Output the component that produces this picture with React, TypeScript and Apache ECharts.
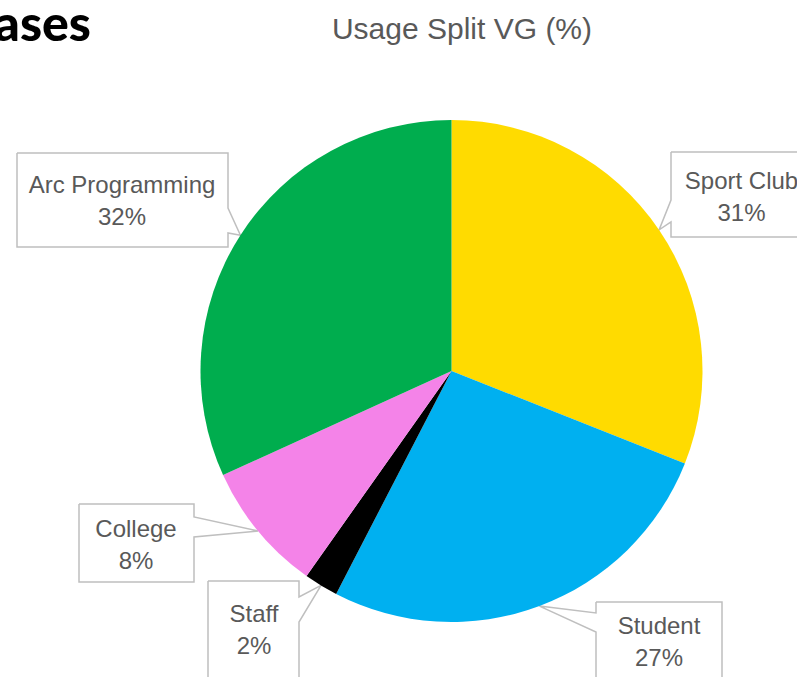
import React, { useEffect, useRef } from "react";
import * as echarts from "echarts";

const categories = ["Sport Club", "Student", "Staff", "College", "Arc Programming"];
const values = [31.0, 26.6, 2.2, 8.4, 31.8];
const colors = ["#FFDB00", "#00B0F0", "#000000", "#F483E8", "#00AD4E"];
const chartTitle = "Usage Split VG (%)";
const headingFragment = "ases";

// callout box layout (pixels), one per category
const calloutBoxes = [
  { x0: 671, y0: 152, x1: 840, y1: 237, side: "left", a: 200, b: 222, cx: 741.5, cy: 196 },
  { x0: 596, y0: 602, x1: 722, y1: 720, side: "left", a: 613, b: 632, cx: 659, cy: 641 },
  { x0: 208, y0: 581, x1: 299, y1: 720, side: "right", a: 597, b: 622, cx: 254, cy: 629 },
  { x0: 79, y0: 504, x1: 194, y1: 582, side: "right", a: 517, b: 537, cx: 136, cy: 544 },
  { x0: 17, y0: 153, x1: 228, y1: 247, side: "right", a: 208, b: 233, cx: 122, cy: 200.5 },
];

function calloutOutline(box: any, tip: number[]) {
  const { x0, y0, x1, y1, side, a, b } = box;
  if (side === "right") {
    return [[x0, y0], [x1, y0], [x1, a], tip, [x1, b], [x1, y1], [x0, y1], [x0, y0]];
  }
  return [[x0, y0], [x1, y0], [x1, y1], [x0, y1], [x0, b], tip, [x0, a], [x0, y0]];
}

export default function App() {
  const ref = useRef<HTMLDivElement>(null);
  useEffect(() => {
    if (!ref.current) return;
    const chart = echarts.init(ref.current, null, { renderer: "svg" });
    chart.setOption({
      animation: false,
      backgroundColor: "#ffffff",
      title: {
        text: chartTitle,
        left: 457,
        top: 8,
        textAlign: "center",
        textStyle: {
          fontFamily: "Liberation Sans",
          fontSize: 30,
          fontWeight: "normal",
          color: "#595959",
        },
      },
      graphic: [
        {
          type: "text",
          x: 91,
          y: 22,
          style: {
            text: headingFragment,
            fontFamily: "Lato",
            fontWeight: 900,
            fontSize: 50,
            fill: "#000000",
            textAlign: "right",
            textVerticalAlign: "middle",
          },
        },
      ],
      series: [
        {
          type: "pie",
          center: [451.5, 371],
          radius: 251,
          startAngle: 90,
          clockwise: true,
          avoidLabelOverlap: false,
          itemStyle: { borderWidth: 0 },
          data: categories.map((name, i) => ({
            name,
            value: values[i],
            itemStyle: { color: colors[i] },
          })),
          label: {
            show: true,
            position: "outside",
            formatter: (p: any) => `${p.name}\n${Math.round(p.percent)}%`,
            fontFamily: "Liberation Sans",
            fontSize: 24,
            lineHeight: 32,
            color: "#595959",
            align: "center",
          },
          labelLine: {
            show: true,
            lineStyle: { color: "#BFBFBF", width: 1.5 },
          },
          labelLayout: (params: any) => {
            const box = calloutBoxes[params.dataIndex];
            const pts = params.labelLinePoints;
            const tip = pts && pts[0] ? pts[0] : [box.cx, box.cy];
            return {
              x: box.cx,
              y: box.cy,
              align: "center",
              verticalAlign: "middle",
              labelLinePoints: calloutOutline(box, tip),
            };
          },
        },
      ],
    });
    return () => chart.dispose();
  }, []);
  return (
    <div
      ref={ref}
      style={{ position: "absolute", left: 0, top: 0, width: 797, height: 677 }}
    />
  );
}
